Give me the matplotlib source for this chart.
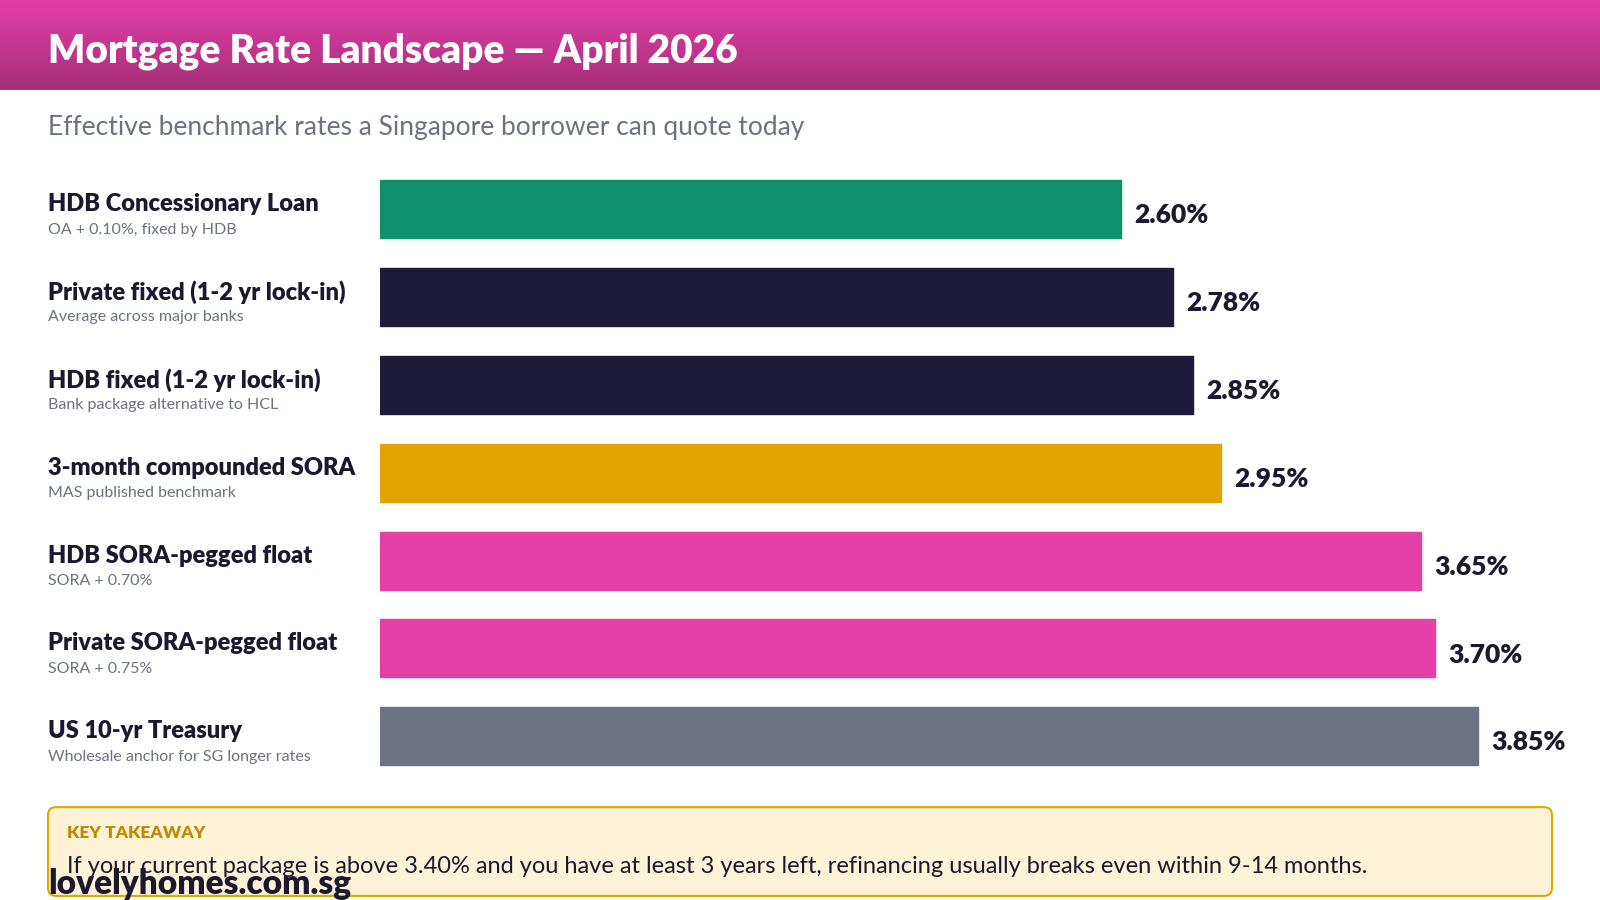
import matplotlib
matplotlib.use("Agg")
import matplotlib.pyplot as plt
import numpy as np
from matplotlib.patches import FancyBboxPatch
from matplotlib.colors import LinearSegmentedColormap

plt.rcParams['font.family'] = ['Lato', 'DejaVu Sans']

categories = ["HDB Concessionary Loan", "Private fixed (1-2 yr lock-in)", "HDB fixed (1-2 yr lock-in)",
              "3-month compounded SORA", "HDB SORA-pegged float", "Private SORA-pegged float", "US 10-yr Treasury"]
subtitles = ["OA + 0.10%, fixed by HDB", "Average across major banks", "Bank package alternative to HCL",
             "MAS published benchmark", "SORA + 0.70%", "SORA + 0.75%", "Wholesale anchor for SG longer rates"]
rates = [2.60, 2.78, 2.85, 2.95, 3.65, 3.70, 3.85]
colors = ["#10906a", "#1e1b3a", "#1e1b3a", "#e0a400", "#e540a5", "#e540a5", "#6b7280"]

W, H = 1568, 882
fig = plt.figure(figsize=(16, 9), dpi=100)
bg = fig.add_axes([0, 0, 1, 1])
bg.axis('off')

grad = np.linspace(0, 1, 100).reshape(-1, 1)
cmap = LinearSegmentedColormap.from_list("h", ["#e43ea6", "#a52f78"])
bg.imshow(grad, extent=[0, W, 88, 0], cmap=cmap, aspect='auto', zorder=0)
bg.set_xlim(0, W); bg.set_ylim(H, 0)
bg.text(47, 50, "Mortgage Rate Landscape — April 2026", color="white", fontsize=28,
        fontweight='heavy', va='center')
bg.text(47, 125, "Effective benchmark rates a Singapore borrower can quote today", color="#6b7280",
        fontsize=19, va='center')

y0, step = 205, 86.1
for i, (c, s) in enumerate(zip(categories, subtitles)):
    yc = y0 + i * step
    bg.text(47, yc - 5, c, fontsize=17, fontweight='heavy', color="#1a1a2e", va='center')
    bg.text(47, yc + 20, s, fontsize=11.5, color="#6b7280", va='center')

box = FancyBboxPatch((47, 791), 1474, 87, boxstyle="round,pad=0,rounding_size=8",
                     facecolor="#fef3d6", edgecolor="#e0a800", linewidth=1.5, zorder=1)
bg.add_patch(box)
bg.text(66, 816, "KEY TAKEAWAY", fontsize=12.5, fontweight='heavy', color="#c08a00", va='center', zorder=2)
bg.text(66, 849, "If your current package is above 3.40% and you have at least 3 years left, refinancing usually breaks even within 9-14 months.",
        fontsize=17, color="#1a1a2e", va='center', zorder=2)
bg.text(47, 866, "lovelyhomes.com.sg", fontsize=24, fontweight='heavy', color="#1a1a2e", va='center', zorder=3)

ppu = 279.6
xmax = 4.5
top = y0 - step / 2
bottom = y0 + 6 * step + step / 2
ax = fig.add_axes([372 / W, 1 - bottom / H, xmax * ppu / W, (bottom - top) / H])
ax.set_xlim(0, xmax); ax.set_ylim(6.5, -0.5)
ax.axis('off')
ax.patch.set_alpha(0)
y = np.arange(len(rates))
ax.barh(y, rates, height=0.66, color=colors, edgecolor=colors, linewidth=1)
for yi, r in zip(y, rates):
    ax.text(r + 13 / ppu, yi + 0.07, f"{r:.2f}%", fontsize=19, fontweight='heavy', color="#1a1a2e", va='center')

fig.savefig("out.png", dpi=100)
